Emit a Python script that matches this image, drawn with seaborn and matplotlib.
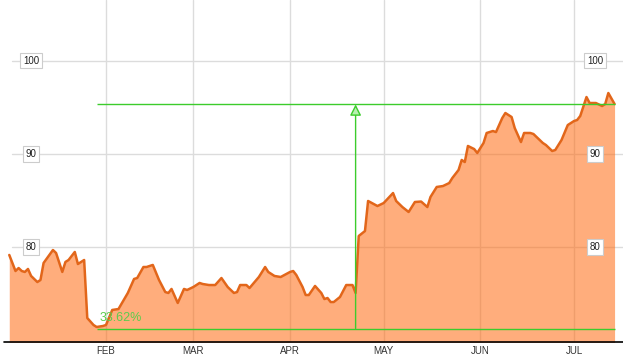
import matplotlib
matplotlib.use("Agg")
import matplotlib.pyplot as plt
import matplotlib.transforms as mtransforms
import seaborn as sns
import pandas as pd

# ---- data ----
dates_md = [
    "01-01", "01-03", "01-04", "01-05", "01-06", "01-07", "01-08", "01-10", "01-11", "01-12",
    "01-15", "01-16", "01-18", "01-19", "01-20", "01-22", "01-23", "01-25", "01-26", "01-28",
    "01-29", "01-31",
    "02-01", "02-03", "02-05", "02-08", "02-10", "02-11", "02-13", "02-14", "02-16", "02-18",
    "02-20", "02-21", "02-22", "02-24", "02-26", "02-27",
    "03-01", "03-03", "03-04", "03-06", "03-08", "03-10", "03-12", "03-14", "03-15", "03-16",
    "03-18", "03-19", "03-22", "03-24", "03-25", "03-27", "03-29",
    "04-01", "04-02", "04-03", "04-05", "04-06", "04-07", "04-09", "04-11", "04-12", "04-13",
    "04-14", "04-15", "04-17", "04-19", "04-21", "04-22", "04-23", "04-25", "04-26", "04-29",
    "05-01", "05-04", "05-05", "05-07", "05-09", "05-11", "05-13", "05-15", "05-16", "05-18",
    "05-20", "05-22", "05-23", "05-25", "05-26", "05-27", "05-28", "05-30", "05-31",
    "06-02", "06-03", "06-05", "06-06", "06-08", "06-09", "06-11", "06-12", "06-14", "06-15",
    "06-17", "06-18", "06-21", "06-22", "06-24", "06-25", "06-27", "06-29",
    "07-01", "07-02", "07-03", "07-05", "07-06", "07-08", "07-10", "07-11", "07-12", "07-14",
]
values = [
    79.18, 77.46, 77.78, 77.46, 77.36, 77.68, 76.93, 76.28, 76.50, 78.32,
    79.71, 79.39, 77.36, 78.43, 78.64, 79.50, 78.21, 78.64, 72.43, 71.68,
    71.47, 71.57,
    71.68, 73.29, 73.39, 75.11, 76.61, 76.71, 77.89, 77.89, 78.11, 76.50,
    75.21, 75.11, 75.54, 74.04, 75.54, 75.43,
    75.75, 76.18, 76.07, 75.96, 75.96, 76.71, 75.75, 75.11, 75.21, 75.96,
    75.96, 75.64, 76.82, 77.89, 77.36, 76.93, 76.82,
    77.36, 77.46, 77.03, 75.75, 74.89, 74.89, 75.86, 75.11, 74.46, 74.57,
    74.14, 74.14, 74.68, 75.96, 75.96, 75.11, 81.21, 81.74, 84.96, 84.42,
    84.74, 85.81, 84.96, 84.31, 83.78, 84.85, 84.90, 84.31, 85.39, 86.46,
    86.56, 86.88, 87.42, 88.28, 89.35, 89.13, 90.85, 90.52, 90.10,
    91.17, 92.24, 92.45, 92.34, 93.84, 94.38, 93.95, 92.77, 91.27, 92.24,
    92.24, 92.13, 91.17, 90.95, 90.31, 90.42, 91.49, 93.09,
    93.52, 93.63, 94.06, 96.09, 95.45, 95.45, 95.13, 95.34, 96.52, 95.34,
]
year = "2009"
y_ticks = [80, 90, 100]
month_starts = ["02-01", "03-01", "04-01", "05-01", "06-01", "07-01"]
month_labels = ["FEB", "MAR", "APR", "MAY", "JUN", "JUL"]
low_value = 71.3
high_value = 95.3
range_start = "01-29"
range_end = "07-14"
jump_date = "04-22"
change_label = "33.62%"

# ---- styling ----
sns.set_theme(style="white")
plt.rcParams["font.family"] = ["Liberation Sans", "DejaVu Sans"]

LINE = "#e2661a"
FILL = "#ff6a10"
GREEN = "#3ccc2c"
GRID = "#dcdcdc"

df = pd.DataFrame({
    "date": pd.to_datetime([f"{year}-{m}" for m in dates_md]),
    "value": values,
})

fig = plt.figure(figsize=(6.23, 3.58), dpi=100)
W, H = 623, 358
ax = fig.add_axes([0, (H - 342) / H, 1, 342 / H])

x_left = pd.Timestamp(f"{year}-01-01") - pd.Timedelta(days=2.97)
x_right = pd.Timestamp(f"{year}-01-01") + pd.Timedelta(days=196.7)
ax.set_xlim(x_left, x_right)
ax.set_ylim(69.86, 106.48)

# grid
for m in month_starts:
    ax.axvline(pd.Timestamp(f"{year}-{m}"), color=GRID, lw=1, zorder=0)
for t in y_ticks:
    ax.axhline(t, xmin=12 / W, xmax=1, color=GRID, lw=1, zorder=0)

# area + line
ax.fill_between(df["date"], df["value"], 60, color=FILL, alpha=0.55, lw=0, zorder=1)
sns.lineplot(data=df, x="date", y="value", color=LINE, lw=1.8, ax=ax, zorder=3)

# range lines
rs = pd.Timestamp(f"{year}-{range_start}")
re_ = pd.Timestamp(f"{year}-{range_end}")
ax.hlines([low_value, high_value], rs, re_, color=GREEN, lw=1, zorder=4)
jd = pd.Timestamp(f"{year}-{jump_date}")
ax.annotate("", xy=(jd, high_value), xytext=(jd, low_value),
            arrowprops=dict(arrowstyle="-|>,head_length=0.55,head_width=0.28",
                            ec=GREEN, fc="#b8f0b0", lw=1, shrinkA=0, shrinkB=0),
            zorder=5)
ax.text(pd.Timestamp(f"{year}-01-30"), 72.45, change_label, color="#5ccc4c",
        fontsize=9, ha="left", va="center", zorder=6)

# y tick label boxes
trans = mtransforms.blended_transform_factory(ax.transAxes, ax.transData)
for t in y_ticks:
    for xf in (31 / W, 595 / W):
        ax.text(xf, t, str(t), transform=trans, fontsize=7, color="#222222",
                ha="center", va="center", zorder=7,
                bbox=dict(boxstyle="square,pad=0.3", fc="white", ec="#cccccc", lw=0.8))

# x axis
ax.set_xticks([pd.Timestamp(f"{year}-{m}") for m in month_starts])
ax.set_xticklabels(month_labels, fontsize=7, color="#333333")
ax.tick_params(axis="x", length=0, pad=3)
ax.set_yticks([])
ax.set_xlabel("")
ax.set_ylabel("")
for s in ax.spines.values():
    s.set_visible(False)
ax.plot([4 / W, 1], [0, 0], transform=ax.transAxes, color="black", lw=1.2,
        clip_on=False, zorder=8)
ax.set_facecolor("white")

fig.savefig("out.png", dpi=100)
